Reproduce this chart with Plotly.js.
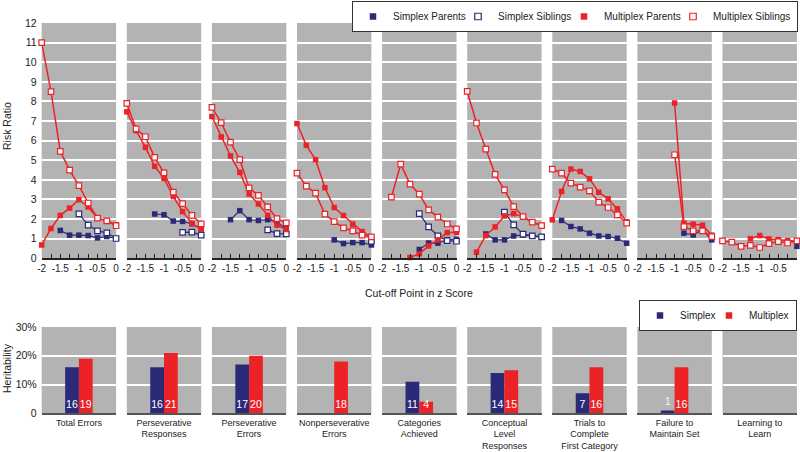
<!DOCTYPE html>
<html>
<head>
<meta charset="utf-8">
<script src="https://cdn.plot.ly/plotly-3.0.1.min.js"></script>
<style>
html,body{margin:0;padding:0;background:#fff;}
#chart{width:800px;height:452px;}
</style>
</head>
<body>
<div id="chart"></div>
<script>
// ---------- DATA ----------
var zScores = [-2, -1.75, -1.5, -1.25, -1, -0.75, -0.5, -0.25, 0];
var xTickVals = [-2, -1.5, -1, -0.5, 0];
var xTickText = ['-2', '-1.5', '-1', '-0.5', '0'];
var yTickVals = [0,1,2,3,4,5,6,7,8,9,10,11,12];

var measures = ['Total Errors', 'Perseverative<br>Responses', 'Perseverative<br>Errors',
  'Nonperseverative<br>Errors', 'Categories<br>Achieved', 'Conceptual<br>Level<br>Responses',
  'Trials to<br>Complete<br>First Category', 'Failure to<br>Maintain Set', 'Learning to<br>Learn'];

var simplexParents = [
  [null, null, 1.42, 1.18, 1.18, 1.16, 1.04, 1.11, 1.01],
  [null, null, null, 2.26, 2.22, 1.90, 1.88, 1.76, 1.49],
  [null, null, 1.97, 2.43, 1.97, 1.93, 1.97, 1.85, 1.50],
  [null, null, null, null, 0.94, 0.75, 0.80, 0.80, 0.68],
  [null, null, null, null, 0.45, 0.78, 0.77, 0.95, 0.97],
  [null, null, 1.24, 0.94, 0.94, 1.14, 1.19, 1.14, 1.09],
  [null, 1.93, 1.62, 1.50, 1.28, 1.14, 1.11, 1.02, 0.77],
  [null, null, null, null, null, 1.28, 1.19, 1.45, 0.94],
  [null, null, null, null, null, null, null, null, 0.61]
];
var simplexSiblings = [
  [null, null, null, null, 2.27, 1.69, 1.40, 1.30, 1.01],
  [null, null, null, null, null, null, 1.32, 1.33, 1.18],
  [null, null, null, null, null, null, 1.45, 1.26, 1.25],
  [null, null, null, null, null, null, null, null, 0.87],
  [null, null, null, null, 2.28, 1.60, 1.14, 0.90, 0.87],
  [null, null, null, null, 2.35, 1.70, 1.23, 1.14, 1.09],
  [null, null, null, null, null, null, null, null, null],
  [null, null, null, null, null, null, null, null, null],
  [null, null, null, null, null, null, null, null, null]
];
var multiplexParents = [
  [0.68, 1.52, 2.19, 2.56, 2.99, 2.62, 2.05, 1.91, 1.71],
  [7.47, 6.51, 5.66, 4.69, 4.07, 3.15, 2.38, 1.78, 1.47],
  [7.23, 6.19, 5.22, 4.38, 3.28, 2.77, 2.19, 1.69, 1.47],
  [6.87, 5.76, 5.03, 3.60, 2.59, 2.18, 1.74, 1.36, 1.09],
  [null, null, null, 0.04, 0.23, 0.63, 0.94, 1.31, 1.32],
  [null, 0.31, 1.16, 1.60, 2.16, 2.28, 2.10, 1.84, 1.67],
  [1.96, 3.41, 4.55, 4.43, 4.05, 3.37, 3.03, 2.52, 1.86],
  [null, null, null, null, 7.92, 1.79, 1.74, 1.69, 1.18],
  [null, null, null, 1.00, 1.16, 0.99, 0.95, 0.90, 0.87]
];
var multiplexSiblings = [
  [11.0, 8.50, 5.45, 4.50, 3.71, 2.82, 2.05, 1.91, 1.66],
  [7.90, 6.60, 6.20, 5.15, 4.36, 3.37, 2.79, 2.19, 1.76],
  [7.70, 6.92, 5.92, 5.03, 3.59, 3.21, 2.62, 2.02, 1.81],
  [4.34, 3.68, 3.32, 2.25, 1.87, 1.55, 1.40, 1.18, 1.09],
  [null, 3.12, 4.80, 3.78, 3.27, 2.47, 2.10, 1.75, 1.50],
  [8.51, 6.90, 5.57, 4.28, 3.49, 2.64, 2.13, 1.84, 1.67],
  [4.55, 4.34, 3.83, 3.63, 3.44, 2.86, 2.59, 2.21, 1.79],
  [null, null, null, null, 5.28, 1.62, 1.40, 1.40, 1.11],
  [0.89, 0.82, 0.61, 0.66, 0.55, 0.75, 0.85, 0.78, 0.89]
];

var heritSimplex   = [16, 16, 17, null, 11, 14, 7, 1, null];
var heritMultiplex = [19, 21, 20, 18, 4, 15, 16, 16, null];
var heritTickVals = [0, 10, 20, 30];
var heritTickText = ['0', '10%', '20%', '30%'];

var seriesNames = ['Simplex Parents', 'Simplex Siblings', 'Multiplex Parents', 'Multiplex Siblings'];
var barNames = ['Simplex', 'Multiplex'];

// ---------- STYLE ----------
var NAVY = '#2a2a78', RED = '#ed2227', BG = '#b3b3b3';
var FONT = 'Liberation Sans, Arial, sans-serif';
var W = 800, H = 452;
var legendWidthsTop = [60, 61, 64, 79];
var legendWidthsBottom = [24, 42];

var traces = [];
var styleFor = [
  {color: NAVY, open: false, lw: 1.2},
  {color: NAVY, open: true, lw: 1.2},
  {color: RED, open: false, lw: 1.5},
  {color: RED, open: true, lw: 1.5}
];
var allSeries = [simplexParents, simplexSiblings, multiplexParents, multiplexSiblings];

function mk(st, size) {
  return {
    symbol: 'square', size: size,
    color: st.open ? '#ffffff' : st.color,
    line: {color: st.color, width: st.open ? 1.2 : 0}
  };
}

for (var p = 0; p < 9; p++) {
  var xa = p === 0 ? 'x' : 'x' + (p + 1);
  for (var s = 0; s < 4; s++) {
    traces.push({
      type: 'scatter', mode: 'lines+markers',
      x: zScores, y: allSeries[s][p],
      xaxis: xa, yaxis: 'y',
      line: {color: styleFor[s].color, width: styleFor[s].lw},
      marker: mk(styleFor[s], 5.5),
      cliponaxis: false, connectgaps: false,
      showlegend: false, name: seriesNames[s], hoverinfo: 'skip'
    });
  }
}
// legend-only entries (marker only) for the top legend
for (var s2 = 0; s2 < 4; s2++) {
  traces.push({
    type: 'scatter', mode: 'markers', x: [null], y: [null],
    xaxis: 'x', yaxis: 'y', marker: mk(styleFor[s2], 6.5), name: seriesNames[s2],
    showlegend: true, legend: 'legend', legendwidth: legendWidthsTop[s2], hoverinfo: 'skip'
  });
}

// bars
var barVals = [heritSimplex, heritMultiplex];
var barCols = [NAVY, RED];
for (var q = 0; q < 9; q++) {
  var bx = 'x' + (10 + q);
  for (var b = 0; b < 2; b++) {
    var v = barVals[b][q];
    traces.push({
      type: 'bar', x: [measures[q]], y: [v],
      xaxis: bx, yaxis: 'y2',
      marker: {color: barCols[b], line: {width: 0}},
      text: [v == null ? '' : String(v)],
      textposition: (v != null && v < 3) ? 'outside' : 'inside',
      insidetextanchor: 'start',
      constraintext: 'none',
      textangle: 0,
      textfont: {color: '#ffffff', size: 10.5, family: FONT},
      outsidetextfont: {color: '#f2f2f2', size: 10.5, family: FONT},
      insidetextfont: {color: '#ffffff', size: 10.5, family: FONT},
      cliponaxis: false,
      name: barNames[b], showlegend: false, hoverinfo: 'skip'
    });
  }
}
// legend-only entries for the bottom legend
for (var b2 = 0; b2 < 2; b2++) {
  traces.push({
    type: 'scatter', mode: 'markers', x: [null], y: [null],
    xaxis: 'x10', yaxis: 'y2',
    marker: {symbol: 'square', size: 6.5, color: barCols[b2], line: {width: 0}},
    name: barNames[b2], showlegend: true, legend: 'legend2',
    legendwidth: legendWidthsBottom[b2], hoverinfo: 'skip'
  });
}

// ---------- LAYOUT ----------
var layout = {
  width: W, height: H,
  margin: {l: 0, r: 0, t: 0, b: 0, pad: 0},
  paper_bgcolor: '#ffffff', plot_bgcolor: BG,
  font: {family: FONT, size: 10.5, color: '#222'},
  barmode: 'group', bargap: 0.63, bargroupgap: 0,
  showlegend: true,
  legend: {
    orientation: 'h', x: 798 / W, xanchor: 'right', y: 1 - 1 / H, yanchor: 'top',
    bgcolor: '#ffffff', bordercolor: '#333', borderwidth: 1,
    font: {size: 10, family: FONT, color: '#222'}, itemwidth: 30,
    traceorder: 'normal'
  },
  legend2: {
    orientation: 'h', x: 797 / W, xanchor: 'right', y: 1 - 300 / H, yanchor: 'top',
    bgcolor: '#ffffff', bordercolor: '#333', borderwidth: 1,
    font: {size: 10, family: FONT, color: '#222'}, itemwidth: 30,
    traceorder: 'normal'
  },
  annotations: [
    {text: 'Risk Ratio', xref: 'paper', yref: 'paper', x: 7 / W, y: 1 - 126 / H,
     xanchor: 'center', yanchor: 'middle',
     textangle: -90, showarrow: false, font: {size: 10.5, color: '#222'}},
    {text: 'Heritability', xref: 'paper', yref: 'paper', x: 7 / W, y: 1 - 368 / H,
     xanchor: 'center', yanchor: 'middle',
     textangle: -90, showarrow: false, font: {size: 10.5, color: '#222'}},
    {text: 'Cut-off Point in z Score', xref: 'paper', yref: 'paper', x: 419 / W, y: 1 - 293 / H,
     xanchor: 'center', yanchor: 'middle',
     showarrow: false, font: {size: 10.5, color: '#222'}}
  ],
  yaxis: {
    domain: [1 - 258.3 / H, 1 - 23 / H], anchor: 'x', range: [0, 12],
    tickmode: 'array', tickvals: yTickVals, showgrid: true, gridcolor: '#ffffff', gridwidth: 2,
    zeroline: false, showline: false, ticks: '', ticklabelstandoff: 4,
    tickfont: {size: 10.5, color: '#222'}, fixedrange: true
  },
  yaxis2: {
    domain: [1 - 413.3 / H, 1 - 327 / H], anchor: 'x10', range: [0, 30],
    tickmode: 'array', tickvals: heritTickVals, ticktext: heritTickText,
    showgrid: true, gridcolor: '#ffffff', gridwidth: 2,
    zeroline: false, showline: false, ticks: '', ticklabelstandoff: 4,
    tickfont: {size: 10.5, color: '#222'}, fixedrange: true
  }
};

for (var i = 0; i < 9; i++) {
  var left = 41.7 + 85.1 * i, right = left + 74.4;
  var dom = [left / W, right / W];
  var keyTop = i === 0 ? 'xaxis' : 'xaxis' + (i + 1);
  layout[keyTop] = {
    domain: dom, anchor: 'y', range: [-2, 0],
    tickmode: 'array', tickvals: xTickVals, ticktext: xTickText,
    ticks: 'inside', ticklen: 4, tickwidth: 1, tickcolor: '#222',
    minor: {tickmode: 'array', tickvals: zScores, ticks: 'inside', ticklen: 4, tickwidth: 1, tickcolor: '#222', showgrid: false},
    showline: true, linecolor: '#222', linewidth: 1.5,
    showgrid: false, zeroline: false, fixedrange: true,
    tickfont: {size: 10, color: '#222'}
  };
  layout['xaxis' + (10 + i)] = {
    domain: dom, anchor: 'y2', type: 'category',
    showline: true, linecolor: '#555', linewidth: 1.5,
    showgrid: false, zeroline: false, ticks: '', fixedrange: true,
    tickfont: {size: 9, color: '#222'}
  };
}

Plotly.newPlot('chart', traces, layout, {displayModeBar: false, staticPlot: true});
</script>
</body>
</html>
